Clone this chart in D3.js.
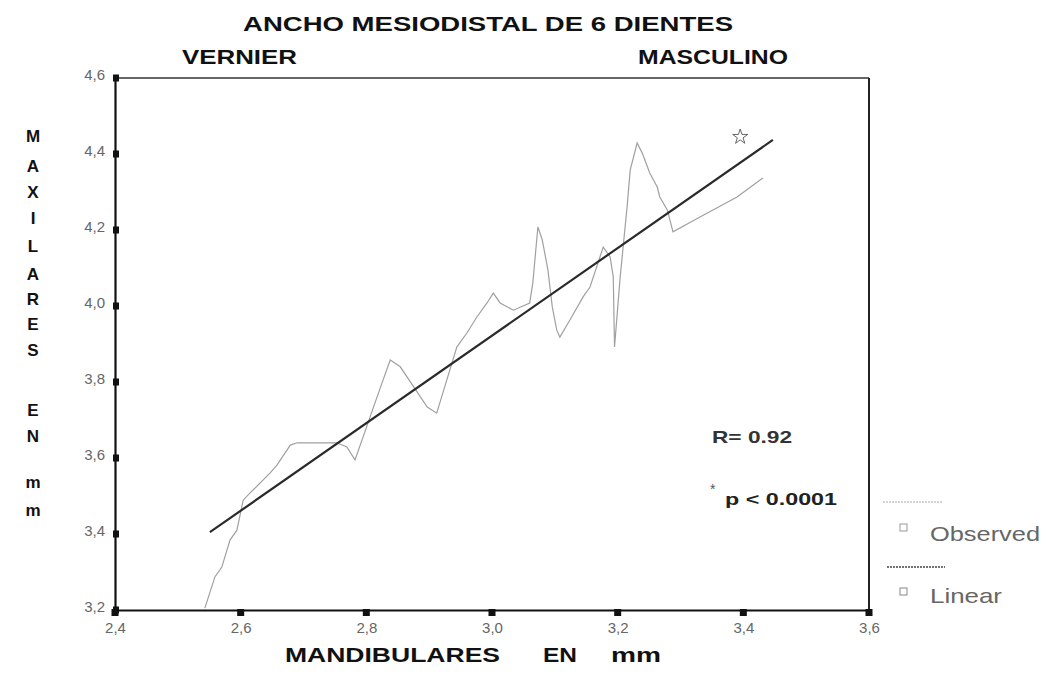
<!DOCTYPE html>
<html>
<head>
<meta charset="utf-8">
<script src="https://cdn.jsdelivr.net/npm/d3@7"></script>
<style>
  html, body { margin: 0; padding: 0; background: #fff; }
  svg { display: block; font-family: "Liberation Sans", Arial, sans-serif; }
</style>
</head>
<body>
<svg id="chart" width="1046" height="680"></svg>
<script>
// ---- data ----
const obsX = [2.543, 2.559, 2.570, 2.583, 2.594, 2.604, 2.615, 2.647, 2.658, 2.679, 2.690, 2.753, 2.769, 2.782,
              2.822, 2.838, 2.854, 2.897, 2.912, 2.928, 2.944, 2.960, 2.976, 2.992, 3.002, 3.013, 3.034, 3.060,
              3.065, 3.073, 3.080, 3.089, 3.096, 3.103, 3.108, 3.124, 3.145, 3.156, 3.177, 3.188, 3.193, 3.195,
              3.204, 3.215, 3.220, 3.231, 3.239, 3.251, 3.263, 3.267, 3.279, 3.286, 3.288, 3.331, 3.390, 3.431];
const obsY = [3.205, 3.287, 3.313, 3.384, 3.410, 3.489, 3.508, 3.561, 3.582, 3.634, 3.640, 3.640, 3.629, 3.595,
              3.784, 3.858, 3.840, 3.734, 3.718, 3.805, 3.892, 3.929, 3.971, 4.008, 4.034, 4.008, 3.989, 4.008,
              4.061, 4.208, 4.174, 4.095, 3.997, 3.937, 3.918, 3.963, 4.024, 4.050, 4.155, 4.129, 4.076, 3.892,
              4.076, 4.261, 4.358, 4.429, 4.403, 4.350, 4.313, 4.287, 4.253, 4.208, 4.195, 4.234, 4.287, 4.337];
const linearRange = [2.551, 3.447];
const linIntercept = 0.466;
const linSlope = 1.152;
const xTicks = [2.4, 2.6, 2.8, 3.0, 3.2, 3.4, 3.6];
const yTicks = [3.2, 3.4, 3.6, 3.8, 4.0, 4.2, 4.4, 4.6];
const starPoint = [3.395, 4.445];
const yTitleLetters = ["M","A","X","I","L","A","R","E","S","E","N","m","m"];
const xTitleWords = ["MANDIBULARES", "EN", "mm"];

// ---- layout ----
const svg = d3.select("#chart");
const L = 115, T = 78, W = 754, H = 532;
const x = d3.scaleLinear().domain([2.4, 3.6]).range([L, L + W]);
const y = d3.scaleLinear().domain([3.2, 4.6]).range([T + H, T]);
const loc = d3.formatLocale({decimal: ",", thousands: ".", grouping: [3], currency: ["", ""]});
const fmt = loc.format(".1f");
const FONT = "\"Liberation Sans\", Arial, sans-serif";

function stretched(g, txt, x0, yb, size, len, weight, fill) {
  return g.append("text").attr("x", x0).attr("y", yb).attr("font-size", size)
    .attr("font-weight", weight).attr("fill", fill)
    .attr("textLength", len).attr("lengthAdjust", "spacingAndGlyphs").text(txt);
}

// titles
stretched(svg, "ANCHO MESIODISTAL DE 6 DIENTES", 243, 31, 21, 490, "bold", "#111");
stretched(svg, "VERNIER", 182, 64, 21, 115, "bold", "#111");
stretched(svg, "MASCULINO", 638, 64, 21, 150, "bold", "#111");

// frame (top + right)
svg.append("line").attr("x1", L).attr("x2", L + W).attr("y1", T).attr("y2", T)
  .attr("stroke", "#333").attr("stroke-width", 1.5);
svg.append("line").attr("x1", L + W).attr("x2", L + W).attr("y1", T).attr("y2", T + H)
  .attr("stroke", "#222").attr("stroke-width", 2);

// axes
const gx = svg.append("g").attr("transform", `translate(0,${T + H})`)
  .call(d3.axisBottom(x).tickValues(xTicks).tickFormat(fmt).tickSize(0).tickPadding(12));
const gy = svg.append("g").attr("transform", `translate(${L},0)`)
  .call(d3.axisLeft(y).tickValues(yTicks).tickFormat(fmt).tickSize(0).tickPadding(10));
[gx, gy].forEach(g => {
  g.select(".domain").attr("stroke", "#111").attr("stroke-width", 2.2);
  g.selectAll("text").attr("font-size", 15).attr("fill", "#666").attr("font-family", FONT);
});
gy.selectAll(".tick text").attr("dy", "0.1em");

// tick squares
svg.append("g").selectAll("rect").data(xTicks).join("rect")
  .attr("x", d => x(d) - 3.5).attr("y", T + H - 1).attr("width", 7).attr("height", 7).attr("fill", "#111");
svg.append("g").selectAll("rect").data(yTicks).join("rect")
  .attr("x", L - 2).attr("y", d => y(d) - 3.5).attr("width", 6).attr("height", 7).attr("fill", "#111");

// observed line
const obs = obsX.map((v, i) => [v, obsY[i]]);
svg.append("path").datum(obs)
  .attr("d", d3.line().x(d => x(d[0])).y(d => y(d[1])))
  .attr("fill", "none").attr("stroke", "#a0a0a0").attr("stroke-width", 1.2);

// linear fit
const lin = linearRange.map(v => [v, linIntercept + linSlope * v]);
svg.append("path").datum(lin)
  .attr("d", d3.line().x(d => x(d[0])).y(d => y(d[1])))
  .attr("fill", "none").attr("stroke", "#2a2a2a").attr("stroke-width", 2.2);

// star marker
svg.append("path").attr("d", d3.symbol(d3.symbolStar, 70)())
  .attr("transform", `translate(${x(starPoint[0])},${y(starPoint[1])})`)
  .attr("fill", "none").attr("stroke", "#666").attr("stroke-width", 1);

// annotations
stretched(svg, "R= 0.92", 712, 443, 17, 80, "bold", "#333");
svg.append("text").attr("x", 710).attr("y", 494).attr("font-size", 14).attr("fill", "#555").text("*");
stretched(svg, "p < 0.0001", 725, 505, 17, 112, "bold", "#222");

// y-axis title (stacked letters)
const yLetterPos = [136, 166, 192, 218, 246, 274, 299, 324, 350, 410, 436, 482, 510];
svg.append("g").selectAll("text").data(yTitleLetters.map((t, i) => ({t, y: yLetterPos[i]})))
  .join("text").attr("x", 33).attr("y", d => d.y + 6).attr("text-anchor", "middle")
  .attr("font-size", 17).attr("font-weight", "bold").attr("fill", "#111").text(d => d.t);

// x-axis title
const xWordPos = [[285, 215], [543, 34], [611, 50]];
xTitleWords.forEach((w, i) => stretched(svg, w, xWordPos[i][0], 662, 20, xWordPos[i][1], "bold", "#111"));

// legend
const lg = svg.append("g");
lg.append("line").attr("x1", 883).attr("x2", 943).attr("y1", 502).attr("y2", 502)
  .attr("stroke", "#aaa").attr("stroke-width", 1).attr("stroke-dasharray", "2,1");
lg.append("rect").attr("x", 900).attr("y", 524).attr("width", 7).attr("height", 7)
  .attr("fill", "none").attr("stroke", "#999");
stretched(lg, "Observed", 930, 541, 21, 110, "normal", "#666");
lg.append("line").attr("x1", 887).attr("x2", 945).attr("y1", 567).attr("y2", 567)
  .attr("stroke", "#444").attr("stroke-width", 1.5).attr("stroke-dasharray", "2,1");
lg.append("rect").attr("x", 900).attr("y", 588).attr("width", 7).attr("height", 7)
  .attr("fill", "none").attr("stroke", "#888");
stretched(lg, "Linear", 930, 603, 21, 72, "normal", "#666");
</script>
</body>
</html>
